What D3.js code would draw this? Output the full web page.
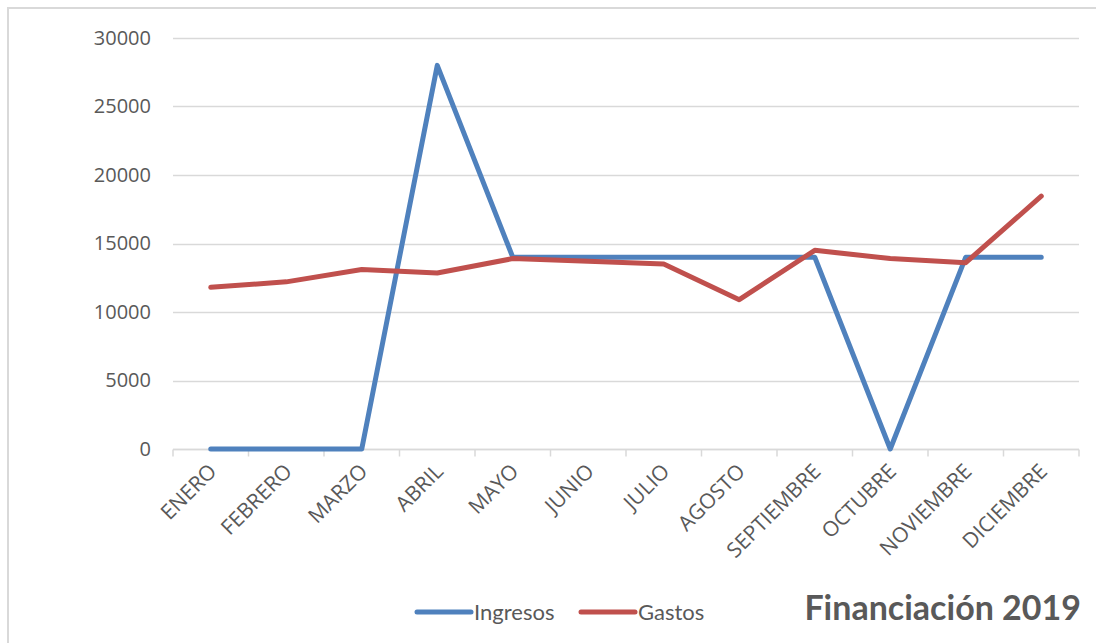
<!DOCTYPE html>
<html>
<head>
<meta charset="utf-8">
<script src="https://cdn.jsdelivr.net/npm/d3@7"></script>
<style>
  body { margin: 0; background: #fff; }
  svg { display: block; }
</style>
</head>
<body>
<svg id="chart" width="1096" height="643"></svg>
<script>
// data
var months = ["ENERO", "FEBRERO", "MARZO", "ABRIL", "MAYO", "JUNIO", "JULIO",
  "AGOSTO", "SEPTIEMBRE", "OCTUBRE", "NOVIEMBRE", "DICIEMBRE"];
var ingresos = [0, 0, 0, 28000, 14000, 14000, 14000, 14000, 14000, 0, 14000, 14000];
var gastos = [11800, 12200, 13100, 12850, 13900, 13700, 13500, 10900, 14500, 13900, 13600, 18450];
var yTicks = [0, 5000, 10000, 15000, 20000, 25000, 30000];
var seriesNames = ["Ingresos", "Gastos"];
var seriesColors = ["#4f81bd", "#c0504d"];

var svg = d3.select("#chart");
var plotLeft = 173, plotRight = 1079, plotTop = 38, plotBottom = 449;

// chart frame (only top and left edges show in the picture)
svg.append("path")
  .attr("d", "M8,643V8H1096")
  .attr("fill", "none")
  .attr("stroke", "#d9d9d9")
  .attr("stroke-width", 2);

var x = d3.scaleBand().domain(months).range([plotLeft, plotRight]);
var y = d3.scaleLinear().domain([0, 30000]).range([plotBottom, plotTop]);

// gridlines
svg.append("g")
  .selectAll("line")
  .data(yTicks)
  .enter().append("line")
  .attr("x1", plotLeft).attr("x2", plotRight)
  .attr("y1", function(d) { return Math.round(y(d)) + 0.5; })
  .attr("y2", function(d) { return Math.round(y(d)) + 0.5; })
  .attr("stroke", "#d9d9d9")
  .attr("stroke-width", 1.5);

// y axis labels
svg.append("g")
  .attr("transform", "translate(" + (plotLeft - 22) + ",0)")
  .call(d3.axisLeft(y).tickValues(yTicks).tickFormat(d3.format("d")).tickSize(0).tickPadding(0))
  .call(function(g) { g.select(".domain").remove(); })
  .selectAll("text")
  .attr("font-family", "'Open Sans', sans-serif")
  .attr("font-size", 20)
  .attr("fill", "#595959");

// x axis with tick marks between categories
var xAxis = svg.append("g")
  .attr("transform", "translate(0," + (Math.round(plotBottom) + 0.5) + ")");
xAxis.append("line")
  .attr("x1", plotLeft).attr("x2", plotRight)
  .attr("stroke", "#d9d9d9").attr("stroke-width", 1.5);
xAxis.selectAll("line.tick")
  .data(months.concat(["_end"]))
  .enter().append("line")
  .attr("class", "tick")
  .attr("x1", function(d, i) { return i < months.length ? x(d) : plotRight; })
  .attr("x2", function(d, i) { return i < months.length ? x(d) : plotRight; })
  .attr("y1", 0).attr("y2", 7)
  .attr("stroke", "#d9d9d9").attr("stroke-width", 1.5);
xAxis.selectAll("text")
  .data(months)
  .enter().append("text")
  .attr("transform", function(d) {
    return "translate(" + (x(d) + x.bandwidth() / 2 - 4) + ",12) rotate(-45)";
  })
  .attr("text-anchor", "end")
  .attr("dy", "0.75em")
  .attr("font-family", "'Open Sans', sans-serif")
  .attr("font-size", 21)
  .attr("fill", "#595959")
  .text(function(d) { return d; });

// lines
var line = d3.line()
  .x(function(d, i) { return x(months[i]) + x.bandwidth() / 2; })
  .y(function(d) { return y(d); });

[ingresos, gastos].forEach(function(vals, k) {
  svg.append("path")
    .datum(vals)
    .attr("fill", "none")
    .attr("stroke", seriesColors[k])
    .attr("stroke-width", 5)
    .attr("stroke-linejoin", "round")
    .attr("stroke-linecap", "round")
    .attr("d", line);
});

// legend
var legendX = [417, 581];
seriesNames.forEach(function(name, k) {
  var g = svg.append("g").attr("transform", "translate(" + legendX[k] + ",612)");
  g.append("line")
    .attr("x1", 0).attr("x2", 54)
    .attr("stroke", seriesColors[k])
    .attr("stroke-width", 5)
    .attr("stroke-linecap", "round");
  g.append("text")
    .attr("x", 57)
    .attr("dy", "0.35em")
    .attr("font-family", "Lato, sans-serif")
    .attr("font-size", 22)
    .attr("fill", "#595959")
    .text(name);
});

// title
svg.append("text")
  .attr("x", 1081)
  .attr("y", 620)
  .attr("text-anchor", "end")
  .attr("font-family", "Lato, sans-serif")
  .attr("font-weight", "bold")
  .attr("font-size", 34)
  .attr("fill", "#595959")
  .text("Financiación 2019");
</script>
</body>
</html>
